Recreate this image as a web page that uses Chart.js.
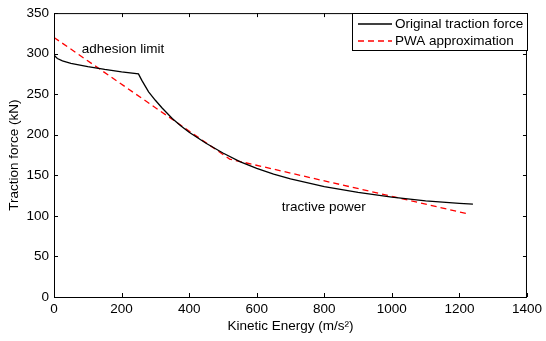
<!DOCTYPE html>
<html>
<head>
<meta charset="utf-8">
<script src="https://cdn.jsdelivr.net/npm/chart.js@4"></script>
<style>
  html, body { margin: 0; padding: 0; background: #fff; }
  #wrap { width: 546px; height: 341px; }
</style>
</head>
<body>
<div id="wrap"><canvas id="chart" width="546" height="341"></canvas></div>
<script>
// original traction force curve (kinetic energy vs force)
const origX = [0, 3, 10, 25, 50, 100, 150, 200, 250, 260, 280, 300, 320, 350, 375, 400, 450, 500, 550, 600, 650, 700, 800, 900, 1000, 1100, 1200, 1240];
const origY = [300, 297, 294, 291, 288, 284, 280.5, 277.5, 275, 267, 253, 242.5, 233, 220, 211, 203, 189.5, 177.5, 167, 158.5, 151.5, 145.5, 136, 129, 123, 118.5, 115.5, 114.5];

// PWA approximation breakpoints
const pwaX = [0, 520, 1220];
const pwaY = [320, 170, 103];

const xTicks = [0, 200, 400, 600, 800, 1000, 1200, 1400];
const yTicks = [0, 50, 100, 150, 200, 250, 300, 350];

const notes = [
    { text: "adhesion limit", x: 82, y: 305 },
    { text: "tractive power", x: 674, y: 110 }
];

const FONT = "'Liberation Sans', Arial, sans-serif";
const FSIZE = 13.5;

function toPoints(xs, ys) {
    return xs.map((x, i) => ({ x: x, y: ys[i] }));
}

// frame, inward ticks, notes and legend box (matlab style)
const decorPlugin = {
    id: 'decor',
    afterDatasetsDraw(chart) {
        const ctx = chart.ctx;
        const a = chart.chartArea;
        const sx = chart.scales.x, sy = chart.scales.y;
        ctx.save();
        ctx.strokeStyle = '#000';
        ctx.lineWidth = 1;
        ctx.strokeRect(a.left + 0.5, a.top + 0.5, a.right - a.left - 1, a.bottom - a.top);

        const tl = 4;
        ctx.beginPath();
        xTicks.forEach(v => {
            const px = Math.round(sx.getPixelForValue(v)) + 0.5;
            ctx.moveTo(px, a.bottom); ctx.lineTo(px, a.bottom - tl);
            ctx.moveTo(px, a.top); ctx.lineTo(px, a.top + tl);
        });
        yTicks.forEach(v => {
            const py = Math.round(sy.getPixelForValue(v)) + 0.5;
            ctx.moveTo(a.left, py); ctx.lineTo(a.left + tl, py);
            ctx.moveTo(a.right, py); ctx.lineTo(a.right - tl, py);
        });
        ctx.stroke();

        ctx.fillStyle = '#000';
        ctx.font = FSIZE + 'px ' + FONT;
        ctx.textBaseline = 'middle';
        ctx.textAlign = 'left';
        notes.forEach(n => {
            ctx.fillText(n.text, sx.getPixelForValue(n.x), sy.getPixelForValue(n.y));
        });

        // legend
        const lx = 352.5, ly = 13.5, lw = 175, lh = 37;
        ctx.fillStyle = '#fff';
        ctx.fillRect(lx, ly, lw, lh);
        ctx.strokeStyle = '#000';
        ctx.strokeRect(lx, ly, lw, lh);
        chart.data.datasets.forEach((ds, i) => {
            const y = 24 + i * 17;
            ctx.beginPath();
            ctx.strokeStyle = ds.borderColor;
            ctx.lineWidth = 1.3;
            ctx.setLineDash(ds.borderDash || []);
            ctx.moveTo(358, y); ctx.lineTo(392, y);
            ctx.stroke();
            ctx.setLineDash([]);
            ctx.fillStyle = '#000';
            ctx.fillText(ds.label, 395, y);
        });
        ctx.restore();
    }
};

const ctx = document.getElementById('chart').getContext('2d');
const chart = new Chart(ctx, {
    type: 'line',
    data: {
        datasets: [{
            label: 'Original traction force',
            data: toPoints(origX, origY),
            borderColor: '#000',
            borderWidth: 1.3,
            pointRadius: 0,
            tension: 0,
            fill: false
        }, {
            label: 'PWA approximation',
            data: toPoints(pwaX, pwaY),
            borderColor: '#ff0000',
            borderWidth: 1.3,
            borderDash: [6, 4],
            pointRadius: 0,
            tension: 0,
            fill: false
        }]
    },
    options: {
        responsive: false,
        animation: false,
        layout: { padding: { top: 8, right: 13, left: 0, bottom: 0 } },
        plugins: {
            legend: { display: false },
            tooltip: { enabled: false }
        },
        scales: {
            x: {
                type: 'linear',
                min: 0,
                max: 1400,
                afterBuildTicks: s => { s.ticks = xTicks.map(v => ({ value: v })); },
                afterFit: s => { s.height = 44; },
                grid: { display: false, drawTicks: false },
                border: { display: false },
                ticks: {
                    color: '#000',
                    font: { family: FONT, size: FSIZE },
                    padding: 4,
                    maxRotation: 0,
                    callback: v => String(v)
                },
                title: {
                    display: true,
                    text: 'Kinetic Energy (m/s²)',
                    color: '#000',
                    font: { family: FONT, size: FSIZE },
                    padding: { top: 0, bottom: 7 }
                }
            },
            y: {
                type: 'linear',
                min: 0,
                max: 350,
                afterBuildTicks: s => { s.ticks = yTicks.map(v => ({ value: v })); },
                afterFit: s => { s.width = 54; },
                grid: { display: false, drawTicks: false },
                border: { display: false },
                ticks: {
                    color: '#000',
                    font: { family: FONT, size: FSIZE },
                    padding: 5,
                    callback: v => String(v)
                },
                title: {
                    display: true,
                    text: 'Traction force (kN)',
                    color: '#000',
                    font: { family: FONT, size: FSIZE },
                    padding: { top: 6, bottom: 0 }
                }
            }
        }
    },
    plugins: [decorPlugin]
});
</script>
</body>
</html>
